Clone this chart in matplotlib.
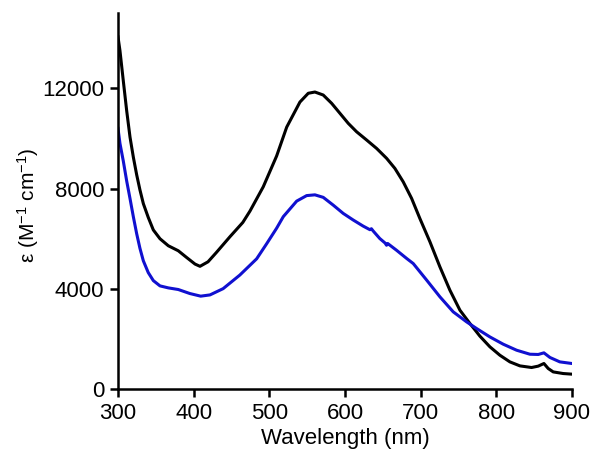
import matplotlib
matplotlib.use("Agg")
import matplotlib.pyplot as plt

plt.rcParams['font.family'] = ['Liberation Sans', 'DejaVu Sans']
plt.rcParams['mathtext.fontset'] = 'custom'
plt.rcParams['mathtext.rm'] = 'Liberation Sans'
plt.rcParams['mathtext.it'] = 'Liberation Sans'

black_x = [300, 302.6, 307, 311.5, 315.9, 320.3, 324.7, 329, 333.5, 340, 346.7,
           355.5, 366.5, 379.7, 390.8, 401.8, 408.4, 419, 430, 448, 465,
           474.4, 492, 509.7, 523, 540.5, 551.5, 560.3, 571.3,
           582.4, 593.4, 604.4, 615.4, 628.7, 641.9, 655.1, 666, 677, 688.1, 699,
           712.3, 725.5, 738.7, 752, 765.2, 778.4, 791.6, 804.8, 818, 831.3,
           846.7, 855.5, 863, 868.7, 875.3, 888.5, 900]
black_y = [14050, 13500, 12300, 11100, 10050, 9250, 8550, 7950, 7400, 6850, 6350,
           6000, 5720, 5520, 5250, 4990, 4900, 5080, 5450, 6080, 6650,
           7100, 8070, 9300, 10450, 11450, 11800, 11850, 11730,
           11400, 11000, 10600, 10265, 9935, 9600, 9205, 8805, 8270, 7610, 6810,
           5880, 4880, 3950, 3150, 2620, 2115, 1690, 1355, 1090, 930,
           865, 920, 1025, 825, 690, 625, 600]

blue_x = [300, 302.6, 307, 311.5, 315.9, 320.3, 324.7, 329, 333.5, 340, 346.7,
          355.5, 366.5, 379.7, 395, 409.3, 421.6, 439, 461, 483.3, 496.5,
          509.7, 518.5, 536.2, 549.4, 560.3, 571.3, 584.5, 597.7, 611, 624,
          633, 635, 637, 646, 653, 655, 656.5, 668, 681.5, 690.3, 708, 725.5,
          743.1, 760.8, 774, 791.6, 809.2, 826.9, 844.5, 855.5, 863, 871, 884,
          900]
blue_y = [10400, 9800, 9100, 8300, 7600, 6875, 6200, 5620, 5120, 4650, 4330,
          4120, 4040, 3975, 3815, 3710, 3760, 4010, 4550, 5200, 5800,
          6420, 6880, 7500, 7720, 7750, 7650, 7340, 7010, 6745, 6505,
          6360, 6400, 6320, 6010, 5830, 5740, 5810, 5545, 5215, 5010, 4350, 3685,
          3085, 2685, 2420, 2085, 1795, 1555, 1395, 1385, 1450, 1265, 1090,
          1025]

xticks = [300, 400, 500, 600, 700, 800, 900]
yticks = [0, 4000, 8000, 12000]

fig = plt.figure(figsize=(6.02, 4.65), dpi=100)
ax = fig.add_axes([0.196, 0.163, 0.754, 0.809])

ax.plot(black_x, black_y, color='black', lw=2.2, solid_joinstyle='round')
ax.plot(blue_x, blue_y, color='#1010d0', lw=2.2, solid_joinstyle='round')

ax.set_xlim(300, 900)
ax.set_ylim(0, 15000)
ax.set_xticks(xticks)
ax.set_yticks(yticks)
ax.tick_params(direction='out', length=6, width=1.8, labelsize=16, pad=4)
for s in ['top', 'right']:
    ax.spines[s].set_visible(False)
for s in ['left', 'bottom']:
    ax.spines[s].set_linewidth(1.8)

ax.set_xlabel('Wavelength (nm)', fontsize=16, labelpad=3)
ax.set_ylabel(r'ε (M$^{-1}$ cm$^{-1}$)', fontsize=15)
ax.yaxis.set_label_coords(-0.17, 0.49)

fig.savefig('out.png', dpi=100)
